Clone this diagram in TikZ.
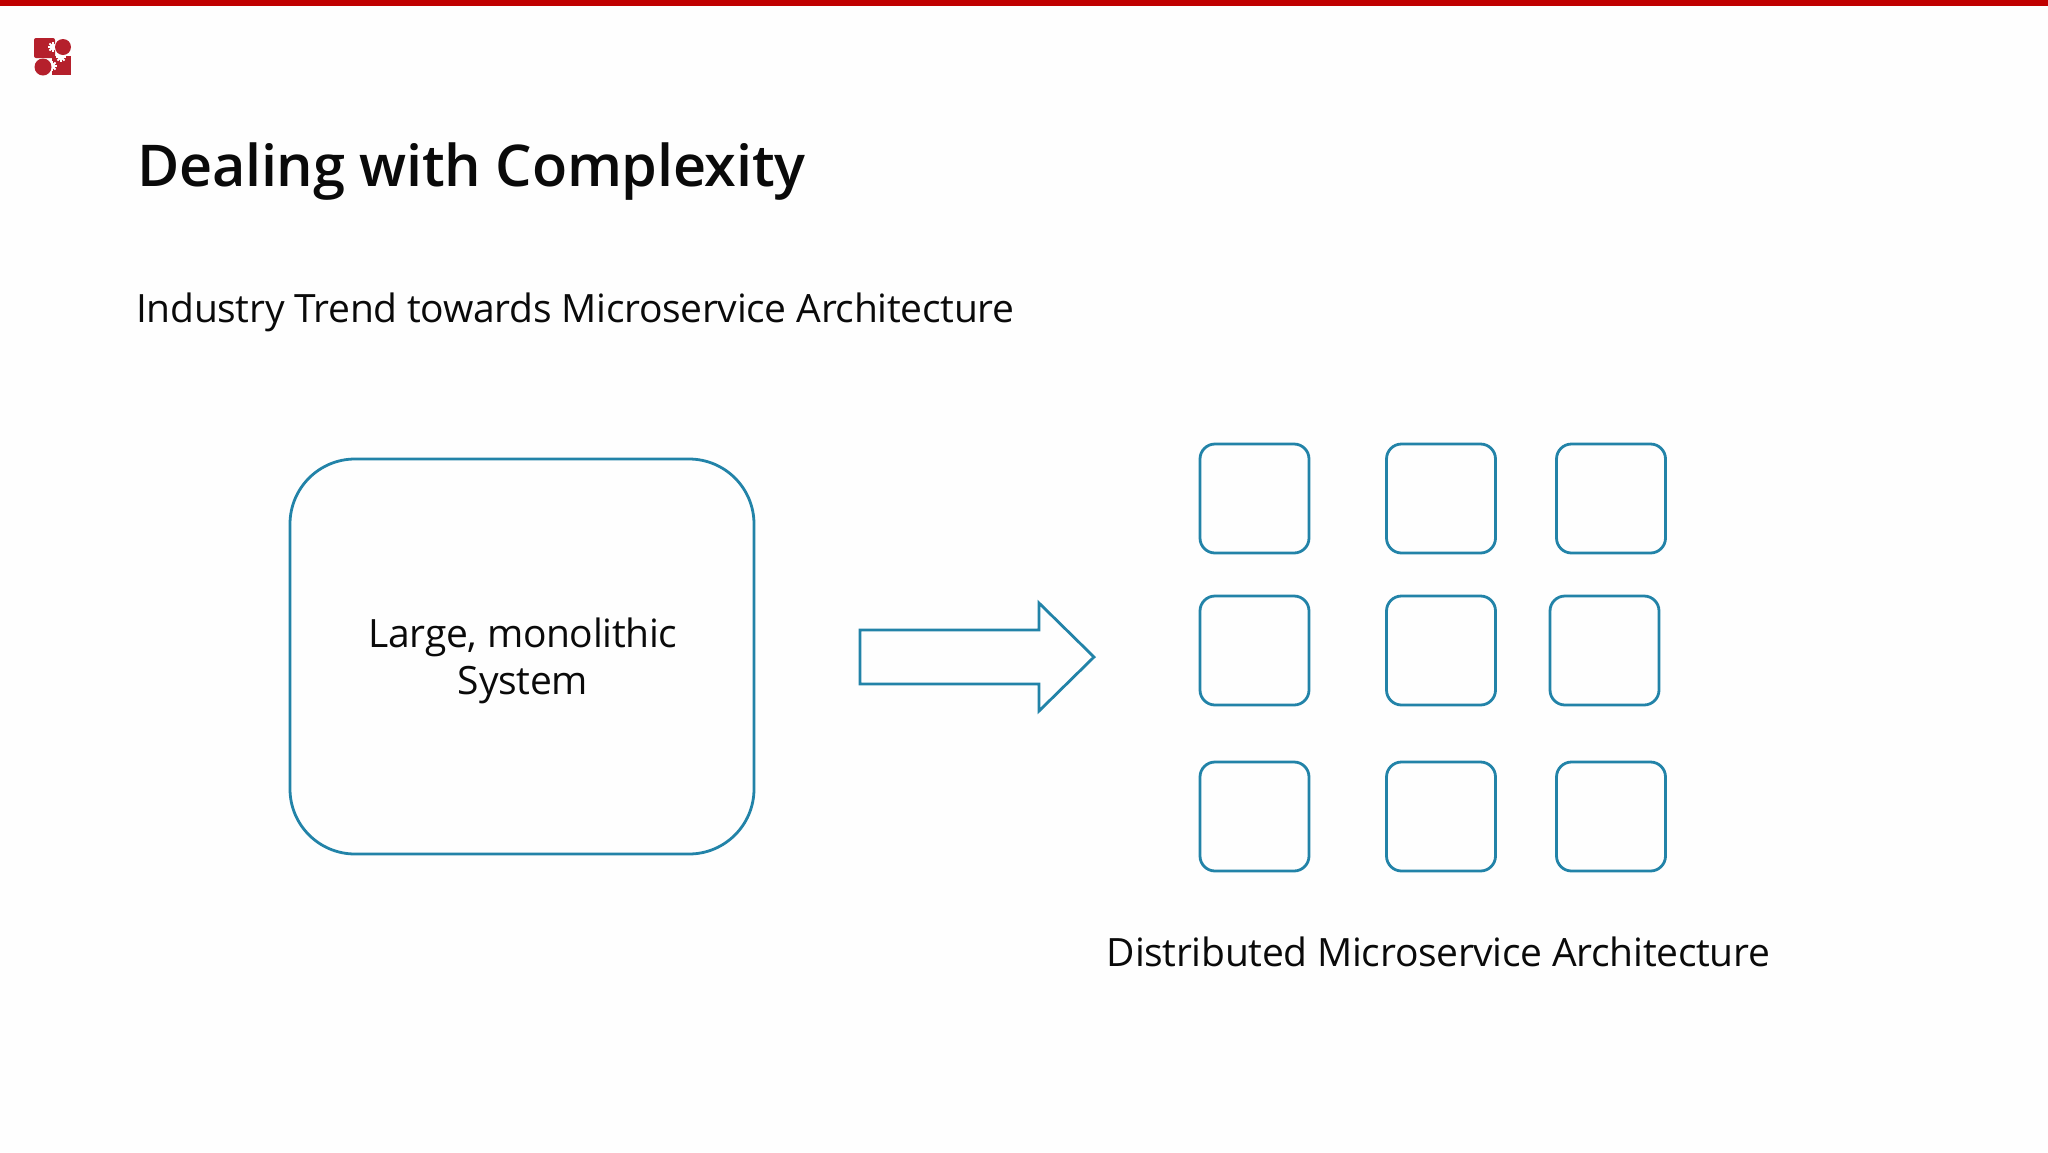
\documentclass[tikz,border=0pt]{standalone}
\usepackage{fontspec}
\setmainfont[LetterSpace=-0.8]{Open Sans}
\newfontfamily\titlefont[LetterSpace=-0.5]{Open Sans Semibold}
\definecolor{slideblue}{HTML}{2283A8}
\definecolor{slidered}{HTML}{C00000}
\definecolor{logored}{HTML}{B5202C}
\definecolor{ink}{HTML}{0A0A0A}
\tikzset{
  x=1pt,y=-1pt,
  small box/.style={draw=slideblue,line width=2.8pt,rounded corners=15pt,minimum width=109pt,minimum height=109pt,inner sep=0pt,outer sep=0pt,anchor=north west},
  large box/.style={draw=slideblue,line width=2.8pt,rounded corners=65pt,minimum width=464pt,minimum height=395pt,inner sep=0pt,outer sep=0pt,anchor=north west},
  body text/.style={text=ink,inner sep=0pt,font=\fontsize{39}{46}\selectfont},
  logo gear/.pic={
    \fill[white] (0,0) circle (3.2);
    \foreach \a in {0,45,...,315} \fill[white,rotate=\a] (-0.9,-5) rectangle (0.9,0);
  },
}
\begin{document}
\begin{tikzpicture}
\useasboundingbox (0,0) rectangle (2048,1152);
\fill[white!99.5!black] (0,0) rectangle (2048,1152);
\fill[slidered] (0,0) rectangle (2048,6);
% logo
\fill[logored,rounded corners=2pt] (34,38) rectangle (55,58);
\fill[logored] (52,56) rectangle (71,75);
\pic at (53,47) {logo gear};
\pic at (61,57) {logo gear};
\pic at (52,66) {logo gear};
\fill[logored] (63,47) circle (8);
\fill[logored] (43,67) circle (8.5);
% text
\node[anchor=base west,inner sep=0pt,text=ink,font=\titlefont\fontsize{57.6}{70}\selectfont] (title) at (137,186.5) {Dealing with Complexity};
\node[anchor=base west,body text] (sub) at (136,322) {Industry Trend towards Microservice Architecture};
% large box
\node[large box] (mono) at (290,459) {};
\node[anchor=base,body text] (l1) at (523,647) {Large, monolithic};
\node[anchor=base,body text] (l2) at (523,694) {System};
% arrow
\draw[slideblue,line width=2.8pt,miter limit=10] (860,630) -- (1039,630) -- (1039,603) -- (1094,657) -- (1039,711) -- (1039,684) -- (860,684) -- cycle;
% grid
\node[small box] (b11) at (1200,444) {};
\node[small box] (b12) at (1386.5,444) {};
\node[small box] (b13) at (1556.5,444) {};
\node[small box] (b21) at (1200,596) {};
\node[small box] (b22) at (1386.5,596) {};
\node[small box] (b23) at (1550,596) {};
\node[small box] (b31) at (1200,762) {};
\node[small box] (b32) at (1386.5,762) {};
\node[small box] (b33) at (1556.5,762) {};
\node[anchor=base,body text] (dist) at (1438.5,966) {Distributed Microservice Architecture};
\end{tikzpicture}
\end{document}
